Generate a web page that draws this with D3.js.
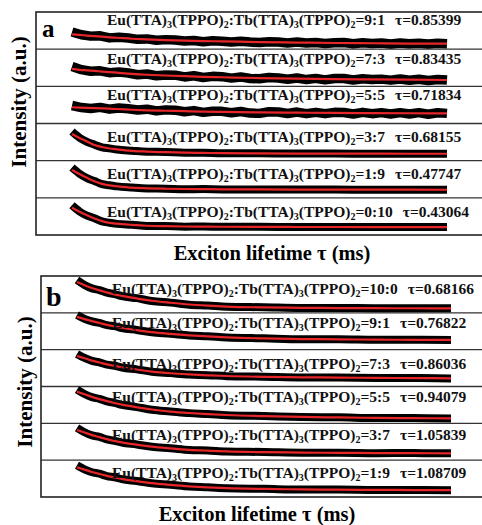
<!DOCTYPE html>
<html><head><meta charset="utf-8">
<script src="https://cdn.jsdelivr.net/npm/d3@7"></script>
<style>body{margin:0;background:#fff}svg{display:block}</style>
</head><body>
<svg id="chart" width="482" height="525"></svg>
<script>
// ---------------- DATA ----------------
const fitTimes = [0,0.1,0.2,0.3,0.4,0.5,0.6,0.8,1.0,1.25,1.5,1.75,2.0,2.5,3.0,3.5,4.0,4.5,5.0];
const noisyTimes = [0,0.125,0.25,0.375,0.5,0.625,0.75,0.875,1,1.125,1.25,1.375,1.5,1.625,1.75,1.875,2,2.125,2.25,2.375,2.5,2.625,2.75,2.875,3,3.125,3.25,3.375,3.5,3.625,3.75,3.875,4,4.125,4.25,4.375,4.5,4.625,4.75,4.875,5];

const ratiosA = ["9:1","7:3","5:5","3:7","1:9","0:10"];
const tausA   = ["0.85399","0.83435","0.71834","0.68155","0.47747","0.43064"];
const ratiosB = ["10:0","9:1","7:3","5:5","3:7","1:9"];
const tausB   = ["0.68166","0.76822","0.86036","0.94079","1.05839","1.08709"];

// fitted decay curves (normalised intensity)
const fitA1 = [0.37,0.35,0.33,0.31,0.29,0.27,0.255,0.22,0.20,0.175,0.155,0.14,0.13,0.105,0.09,0.075,0.065,0.055,0.05];
const fitA2 = [0.46,0.43,0.41,0.39,0.37,0.35,0.33,0.29,0.26,0.235,0.21,0.19,0.175,0.145,0.125,0.11,0.10,0.09,0.08];
const fitA3 = [0.42,0.41,0.40,0.39,0.38,0.37,0.36,0.335,0.315,0.30,0.285,0.27,0.26,0.245,0.235,0.225,0.22,0.215,0.21];
const fitA4 = [0.78,0.64,0.52,0.40,0.33,0.28,0.25,0.20,0.175,0.155,0.14,0.13,0.12,0.112,0.107,0.104,0.102,0.10,0.10];
const fitA5 = [0.82,0.68,0.55,0.43,0.34,0.29,0.26,0.21,0.19,0.175,0.165,0.16,0.155,0.15,0.147,0.145,0.143,0.141,0.14];
const fitA6 = [0.80,0.66,0.54,0.43,0.34,0.28,0.25,0.21,0.18,0.165,0.155,0.15,0.145,0.14,0.138,0.137,0.136,0.135,0.135];
const fitB1 = [0.93,0.82,0.72,0.64,0.57,0.50,0.45,0.36,0.28,0.21,0.15,0.11,0.08,0.05,0.035,0.027,0.022,0.02,0.018];
const fitB2 = [1.0,0.92,0.85,0.785,0.72,0.67,0.62,0.54,0.47,0.41,0.36,0.32,0.29,0.25,0.23,0.22,0.21,0.203,0.198];
const fitB3 = [0.92,0.84,0.76,0.695,0.63,0.575,0.53,0.45,0.38,0.32,0.28,0.25,0.225,0.195,0.18,0.17,0.16,0.152,0.146];
const fitB4 = [0.96,0.87,0.78,0.70,0.63,0.565,0.51,0.42,0.34,0.27,0.22,0.18,0.15,0.11,0.085,0.065,0.05,0.04,0.035];
const fitB5 = [0.91,0.82,0.73,0.66,0.59,0.53,0.48,0.40,0.33,0.27,0.22,0.19,0.165,0.14,0.125,0.115,0.108,0.103,0.10];
const fitB6 = [0.89,0.81,0.73,0.66,0.595,0.54,0.49,0.41,0.34,0.28,0.23,0.195,0.17,0.14,0.125,0.115,0.108,0.103,0.10];

// measured decay data (noisy rows on noisyTimes, others on fitTimes)
const dataA1 = [0.45,0.355,0.31,0.32,0.25,0.27,0.245,0.20,0.215,0.17,0.19,0.18,0.14,0.16,0.12,0.15,0.135,0.105,0.135,0.105,0.09,0.12,0.105,0.075,0.105,0.075,0.09,0.06,0.085,0.09,0.05,0.08,0.06,0.075,0.04,0.075,0.045,0.065,0.04,0.065,0.05];
const dataA2 = [0.54,0.435,0.38,0.395,0.33,0.355,0.32,0.26,0.285,0.225,0.255,0.245,0.185,0.225,0.165,0.205,0.195,0.145,0.185,0.13,0.125,0.165,0.15,0.105,0.15,0.095,0.135,0.085,0.13,0.13,0.08,0.12,0.095,0.11,0.075,0.115,0.07,0.105,0.065,0.10,0.08];
const dataA3 = [0.48,0.41,0.375,0.415,0.355,0.395,0.37,0.325,0.355,0.295,0.33,0.32,0.265,0.305,0.245,0.285,0.28,0.23,0.275,0.22,0.21,0.265,0.255,0.205,0.255,0.20,0.245,0.20,0.245,0.24,0.19,0.245,0.20,0.235,0.19,0.235,0.19,0.235,0.18,0.23,0.21];
const dataA4 = [0.86,0.65,0.51,0.41,0.32,0.285,0.245,0.205,0.17,0.16,0.135,0.132,0.118,0.114,0.105,0.106,0.10,0.102,0.098];
const dataA5 = [0.90,0.69,0.54,0.44,0.33,0.295,0.255,0.215,0.185,0.178,0.16,0.162,0.152,0.152,0.145,0.147,0.141,0.143,0.139];
const dataA6 = [0.88,0.67,0.53,0.44,0.33,0.285,0.245,0.215,0.175,0.168,0.15,0.152,0.142,0.142,0.136,0.139,0.134,0.137,0.133];
const dataB1 = [1.0,0.83,0.71,0.65,0.56,0.51,0.44,0.37,0.27,0.215,0.145,0.115,0.075,0.055,0.03,0.03,0.02,0.022,0.016];
const dataB2 = [1.06,0.93,0.84,0.79,0.71,0.68,0.61,0.545,0.465,0.415,0.355,0.325,0.285,0.255,0.225,0.223,0.207,0.206,0.195];
const dataB3 = [0.99,0.85,0.75,0.70,0.62,0.58,0.52,0.455,0.375,0.325,0.275,0.255,0.22,0.20,0.175,0.173,0.157,0.155,0.143];
const dataB4 = [1.03,0.88,0.77,0.71,0.62,0.57,0.50,0.425,0.335,0.275,0.215,0.185,0.145,0.115,0.08,0.068,0.047,0.043,0.032];
const dataB5 = [0.98,0.83,0.72,0.67,0.58,0.535,0.47,0.405,0.325,0.275,0.215,0.195,0.16,0.145,0.12,0.118,0.105,0.106,0.097];
const dataB6 = [0.96,0.82,0.72,0.67,0.585,0.545,0.48,0.415,0.335,0.285,0.225,0.20,0.165,0.145,0.12,0.118,0.105,0.106,0.097];

// ---------------- LAYOUT ----------------
const FONT = "'Liberation Serif','Times New Roman',serif";
const panels = [
  { letter:"a", frame:{x:36, top:12, bottom:235}, xr:[72,447], textX:107, labelDy:[12.5,15,14,18,18,19],
    ratios:ratiosA, taus:tausA, fits:[fitA1,fitA2,fitA3,fitA4,fitA5,fitA6],
    data:[dataA1,dataA2,dataA3,dataA4,dataA5,dataA6], noisy:[true,true,true,false,false,false],
    letterPos:[42,37,25], yTitle:[26,102], xTitle:[272,260] },
  { letter:"b", frame:{x:41, top:276, bottom:497}, xr:[77,451], textX:112, labelDy:[18,15,19,15,17,18],
    ratios:ratiosB, taus:tausB, fits:[fitB1,fitB2,fitB3,fitB4,fitB5,fitB6],
    data:[dataB1,dataB2,dataB3,dataB4,dataB5,dataB6], noisy:[false,false,false,false,false,false],
    letterPos:[46,306,28], yTitle:[32,382], xTitle:[257,521] }
];

const svg = d3.select("#chart");

panels.forEach(p => {
  const g = svg.append("g");
  const x = d3.scaleLinear().domain([0,5]).range(p.xr);
  const band = d3.scaleBand().domain(d3.range(6)).range([p.frame.top, p.frame.bottom]);

  // row separators
  d3.range(1,6).forEach(i => {
    g.append("line").attr("x1", p.frame.x).attr("x2", 490)
      .attr("y1", band(i)).attr("y2", band(i))
      .attr("stroke", "#333").attr("stroke-width", 1.3);
  });
  g.append("rect").attr("x", p.frame.x).attr("y", p.frame.top)
    .attr("width", 490 - p.frame.x).attr("height", p.frame.bottom - p.frame.top)
    .attr("fill", "none").attr("stroke", "#222").attr("stroke-width", 1.6);

  d3.range(6).forEach(i => {
    const top = band(i), bot = top + band.bandwidth();
    const y = d3.scaleLinear().domain([0,1]).range([bot - 4, top + 4]);
    const times = p.noisy[i] ? noisyTimes : fitTimes;
    const dataLine = d3.line().x((d,k) => x(times[k])).y(d => y(d))
      .curve(p.noisy[i] ? d3.curveLinear : d3.curveMonotoneX);
    g.append("path").attr("d", dataLine(p.data[i]))
      .attr("fill","none").attr("stroke","#000")
      .attr("stroke-width", p.noisy[i] ? 9.5 : 8)
      .attr("stroke-linejoin", p.noisy[i] ? "round" : "miter").attr("stroke-linecap","butt");
    const fitLine = d3.line().x((d,k) => x(fitTimes[k])).y(d => y(d)).curve(d3.curveMonotoneX);
    g.append("path").attr("d", fitLine(p.fits[i]))
      .attr("fill","none").attr("stroke","#e8262a").attr("stroke-width", 2.2);

    // label
    const t = g.append("text").attr("x", p.textX).attr("y", top + p.labelDy[i])
      .attr("font-family", FONT).attr("font-weight","bold").attr("font-size", 15.5).attr("fill","#111");
    const parts = [["Eu(TTA)",0],["3",1],["(TPPO)",0],["2",1],[":Tb(TTA)",0],["3",1],["(TPPO)",0],["2",1],["="+p.ratios[i],0]];
    parts.forEach(([s,sub], k) => {
      const ts = t.append("tspan").text(s);
      if (sub) ts.attr("font-size", 10).attr("dy", 3);
      else if (k > 0) ts.attr("dy", -3);
    });
    t.append("tspan").attr("dx", 10).text("τ=" + p.taus[i]);
  });

  // panel letter
  g.append("text").attr("x", p.letterPos[0]).attr("y", p.letterPos[1])
    .attr("font-family", FONT).attr("font-weight","bold").attr("font-size", p.letterPos[2])
    .text(p.letter);

  // axis titles
  g.append("text").attr("transform", `translate(${p.yTitle[0]},${p.yTitle[1]}) rotate(-90)`)
    .attr("text-anchor","middle").attr("font-family", FONT).attr("font-weight","bold")
    .attr("font-size", 21).text("Intensity (a.u.)");
  g.append("text").attr("x", p.xTitle[0]).attr("y", p.xTitle[1])
    .attr("text-anchor","middle").attr("font-family", FONT).attr("font-weight","bold")
    .attr("font-size", 20.5).text("Exciton lifetime τ (ms)");
});
</script>
</body></html>
